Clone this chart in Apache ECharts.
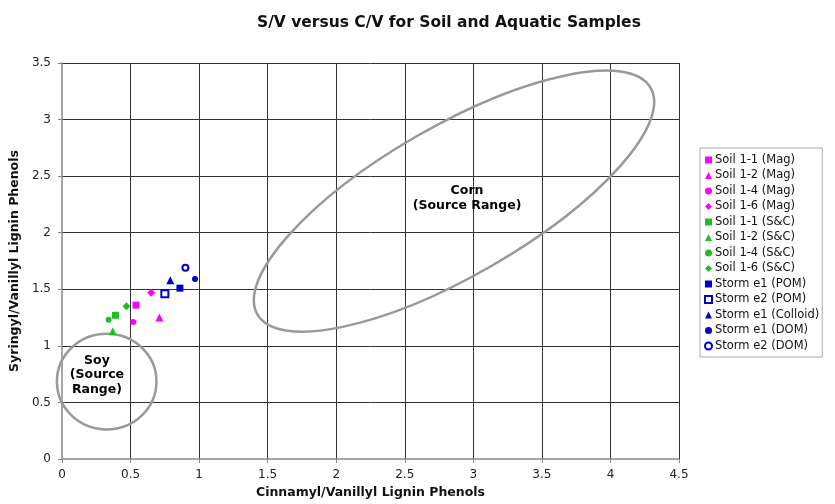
<!DOCTYPE html>
<html>
<head>
<meta charset="utf-8">
<script src="https://cdn.jsdelivr.net/npm/echarts@6/dist/echarts.min.js"></script>
<style>
html,body{margin:0;padding:0;background:#fff;}
#chart{width:835px;height:504px;}
</style>
</head>
<body>
<div id="chart"></div>
<script>
// ---- data ----
const titleText = 'S/V versus C/V for Soil and Aquatic Samples';
const xAxisName = 'Cinnamyl/Vanillyl Lignin Phenols';
const yAxisName = 'Syringyl/Vanillyl Lignin Phenols';

const seriesNames = [
  'Soil 1-1 (Mag)', 'Soil 1-2 (Mag)', 'Soil 1-4 (Mag)', 'Soil 1-6 (Mag)',
  'Soil 1-1 (S&C)', 'Soil 1-2 (S&C)', 'Soil 1-4 (S&C)', 'Soil 1-6 (S&C)',
  'Storm e1 (POM)', 'Storm e2 (POM)', 'Storm e1 (Colloid)', 'Storm e1 (DOM)', 'Storm e2 (DOM)'
];
// C/V (x) values
const cvValues = [0.54, 0.71, 0.52, 0.65, 0.39, 0.37, 0.34, 0.47, 0.86, 0.75, 0.79, 0.97, 0.90];
// S/V (y) values
const svValues = [1.36, 1.25, 1.21, 1.47, 1.27, 1.13, 1.23, 1.35, 1.51, 1.46, 1.58, 1.59, 1.69];

// source range annotations (major-axis end points in data units, minor/major ratio)
const rangeLabels = ['Soy\n(Source\nRange)', 'Corn\n(Source Range)'];
const rangeAxisStart = [[0.326, 0.261], [1.425, 1.278]];
const rangeAxisEnd   = [[0.326, 1.107], [4.293, 3.280]];
const rangeMinorRatio = [1.04, 0.33];
const rangeLabelPos = [[0.255, 0.744], [2.954, 2.305]];

// ---- styles ----
const MAG = '#ff00ff', GRN = '#1fbf1f', BLU = '#0000cc';
const colors = [MAG, MAG, MAG, MAG, GRN, GRN, GRN, GRN, BLU, BLU, BLU, BLU, BLU];
const symbols = ['rect', 'triangle', 'circle', 'diamond', 'rect', 'triangle', 'circle', 'diamond',
                 'rect', 'emptyRect', 'triangle', 'circle', 'emptyCircle'];
const sizes = {rect: 7, triangle: 8, circle: 6, diamond: 8, emptyRect: 7, emptyCircle: 6};
const FONT = 'DejaVu Sans';

const scatterSeries = seriesNames.map((name, i) => ({
  name: name,
  type: 'scatter',
  data: [[cvValues[i], svValues[i]]],
  symbol: symbols[i],
  symbolSize: sizes[symbols[i]],
  itemStyle: {color: colors[i], borderColor: colors[i], borderWidth: symbols[i].startsWith('empty') ? 1 : 0, opacity: 1},
  emphasis: {disabled: true},
  z: 5
}));

const rangeData = rangeLabels.map((l, i) => [i]);

const rangeSeries = {
  type: 'custom',
  name: 'ranges',
  silent: true,
  data: rangeData,
  z: 3,
  renderItem: function (params, api) {
    const i = api.value(0);
    const p1 = api.coord(rangeAxisStart[i]);
    const p2 = api.coord(rangeAxisEnd[i]);
    const cx = (p1[0] + p2[0]) / 2, cy = (p1[1] + p2[1]) / 2;
    const a = Math.hypot(p2[0] - p1[0], p2[1] - p1[1]) / 2;
    const b = a * rangeMinorRatio[i];
    const rot = -Math.atan2(p2[1] - p1[1], p2[0] - p1[0]);
    const lp = api.coord(rangeLabelPos[i]);
    return {
      type: 'group',
      children: [
        {
          type: 'ellipse',
          shape: {cx: 0, cy: 0, rx: a, ry: b},
          x: cx, y: cy,
          rotation: rot,
          style: {fill: null, stroke: '#999', lineWidth: 2.5}
        },
        {
          type: 'text',
          x: lp[0], y: lp[1],
          style: {
            text: rangeLabels[i], fill: '#000',
            font: 'bold 12.5px "' + FONT + '"', lineHeight: 14.5,
            align: 'center', verticalAlign: 'middle'
          }
        }
      ]
    };
  }
};

const chart = echarts.init(document.getElementById('chart'), null, {renderer: 'canvas'});
chart.setOption({
  animation: false,
  backgroundColor: '#fff',
  title: {
    text: titleText,
    left: 252, top: 10,
    textStyle: {fontFamily: FONT, fontWeight: 'bold', fontSize: 15.5, color: '#111'}
  },
  grid: {left: 62, right: 156, top: 63, bottom: 43.5, show: false},
  legend: {
    orient: 'vertical',
    left: 700, top: 148,
    data: seriesNames,
    itemWidth: 7, itemHeight: 7, itemGap: 3.5,
    borderColor: '#aaa', borderWidth: 1,
    padding: [6, 3, 5, 4],
    textStyle: {fontFamily: FONT, fontSize: 11.5, color: '#111', padding: [0, 0, 0, -2]},
    selectedMode: false
  },
  xAxis: {
    type: 'value', min: 0, max: 4.5, interval: 0.5,
    name: xAxisName, nameLocation: 'middle', nameGap: 27,
    nameTextStyle: {fontFamily: FONT, fontWeight: 'bold', fontSize: 12.5, color: '#111'},
    axisLine: {show: true, lineStyle: {color: '#888', width: 1.5}},
    axisTick: {show: true, length: 4, lineStyle: {color: '#888'}},
    axisLabel: {fontFamily: FONT, fontSize: 12, color: '#222', margin: 10},
    splitLine: {show: true, showMinLine: false, lineStyle: {color: '#333', width: 1}}
  },
  yAxis: {
    type: 'value', min: 0, max: 3.5, interval: 0.5,
    name: yAxisName, nameLocation: 'middle', nameGap: 37, nameRotate: 90,
    nameTextStyle: {fontFamily: FONT, fontWeight: 'bold', fontSize: 12.5, color: '#111'},
    axisLine: {show: true, lineStyle: {color: '#888', width: 1.5}},
    axisTick: {show: true, length: 4, lineStyle: {color: '#888'}},
    axisLabel: {fontFamily: FONT, fontSize: 12, color: '#222', margin: 11},
    splitLine: {show: true, showMinLine: false, lineStyle: {color: '#333', width: 1}}
  },
  series: [rangeSeries].concat(scatterSeries)
});
</script>
</body>
</html>
